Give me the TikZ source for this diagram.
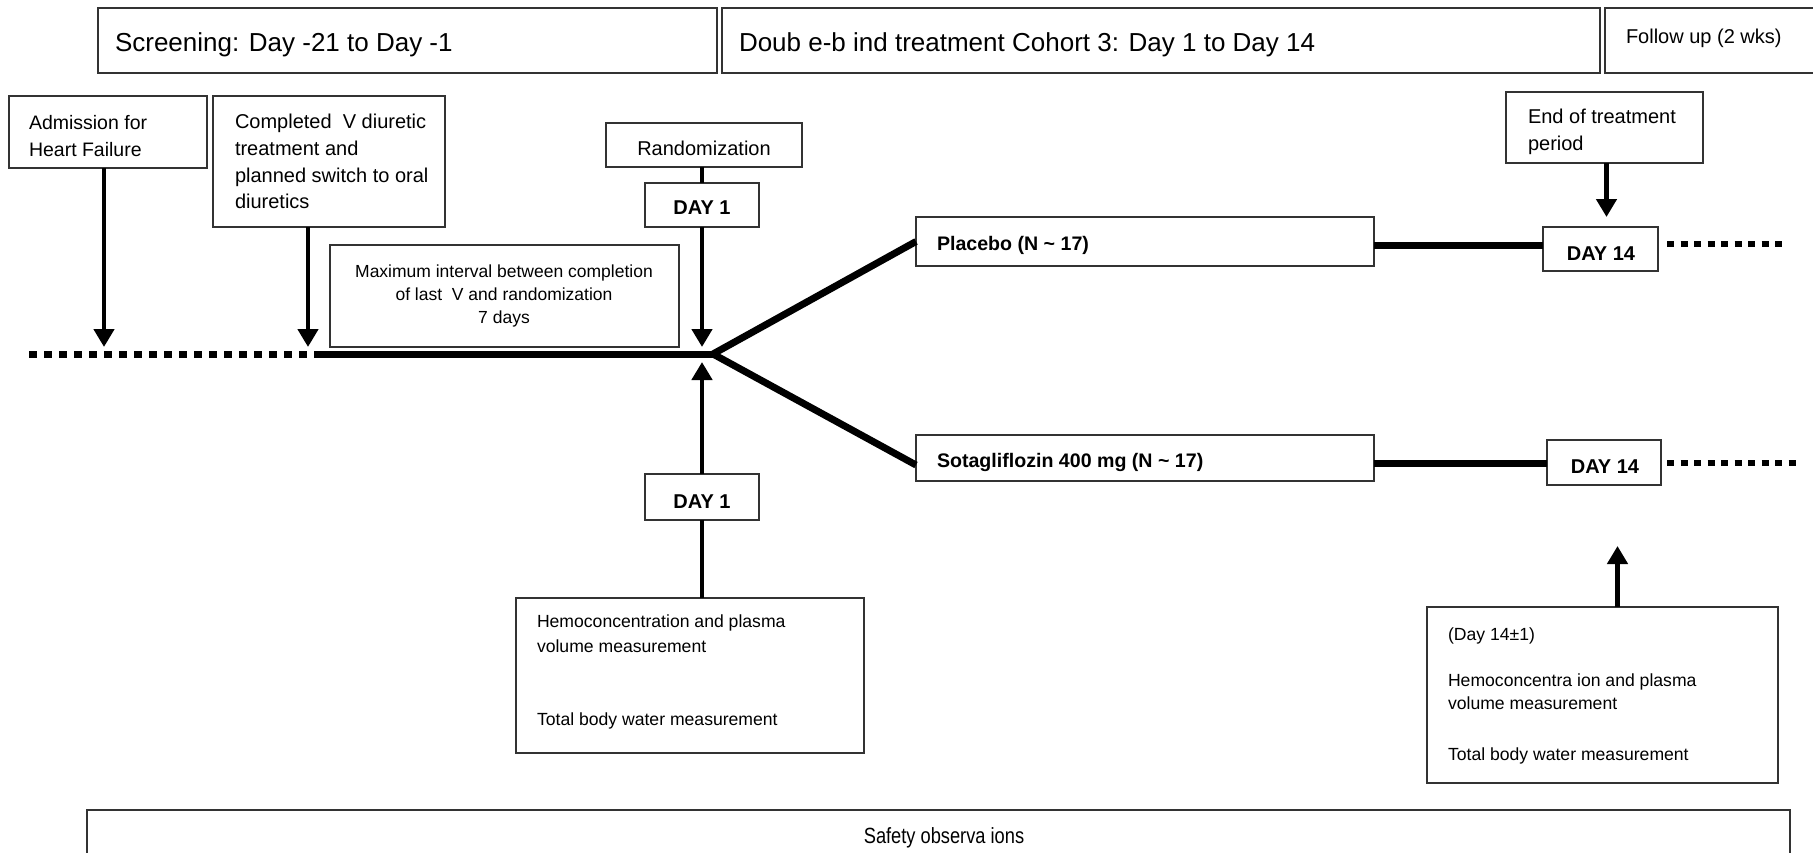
\documentclass[tikz,border=0pt]{standalone}
\usepackage{fontspec}
\setmainfont{Liberation Sans}
\newfontfamily\narrowsans{Liberation Sans}[FakeStretch=0.83]
\usetikzlibrary{arrows.meta}

% a framed box given by its corners (x1,y1) and (x2,y2), y counted downwards
\newcommand\boxnode[5]{\node[frame, minimum width={#4-#2}, minimum height={#5-#3}] (#1) at ({(#2+#4)/2},{(#3+#5)/2}) {};}

\begin{document}
\begin{tikzpicture}[x=1pt,y=-1pt,
  frame/.style={draw=black!80, line width=1.4pt, inner sep=0pt, outer sep=0pt, rectangle},
  txt/.style={inner sep=0pt, outer sep=0pt, anchor=base west, font=\fontsize{20}{24}\selectfont},
  ctxt/.style={txt, anchor=base},
  stxt/.style={txt, font=\fontsize{17.6}{21}\selectfont},
  btxt/.style={txt, font=\fontsize{19.6}{24}\selectfont\bfseries},
  daytxt/.style={ctxt, font=\fontsize{20}{24}\selectfont\bfseries},
  head/.style={txt, font=\fontsize{26}{30}\selectfont},
  track/.style={line width=7pt},
  stem/.style={line width=4.5pt},
  ptr/.style={line width=4.5pt, -{Triangle[width=20pt,length=18pt]}},
  dots/.style={line width=7pt, dash pattern=on 8pt off 7pt},
  dotsr/.style={line width=6.5pt, dash pattern=on 7pt off 6.5pt},
]
\useasboundingbox (0,0) rectangle (1813,852);
\fill[white] (0,0) rectangle (1813,852);

% phase headers
\boxnode{scr}{98}{8}{717}{73}
\boxnode{dbl}{722}{8}{1600}{73}
\boxnode{fup}{1605}{8}{1822}{73}
\node[head] (tscr) at (115,51) {Screening: Day -21 to Day -1};
\node[head] (tdbl) at (739,51) {Doub e-b ind treatment Cohort 3: Day 1 to Day 14};
\node[txt] (tfup) at (1626,43) {Follow up (2 wks)};

% event boxes
\boxnode{adm}{9}{96}{207}{168}
\node[txt, font=\fontsize{19.5}{24}\selectfont] (tadm1) at (29,129) {Admission for};
\node[txt, font=\fontsize{19.5}{24}\selectfont] (tadm2) at (29,156) {Heart Failure};

\boxnode{cmp}{213}{96}{445}{227}
\node[txt] (tcmp1) at (235,128) {Completed \ V diuretic};
\node[txt] (tcmp2) at (235,155) {treatment and};
\node[txt] (tcmp3) at (235,182) {planned switch to oral};
\node[txt] (tcmp4) at (235,208) {diuretics};

\boxnode{rnd}{606}{123}{802}{167}
\node[ctxt] (trnd) at (704,155) {Randomization};

\boxnode{dayA}{645}{183}{759}{227}
\node[daytxt] (tdayA) at (702,214) {DAY 1};

\boxnode{maxi}{330}{245}{679}{347}
\node[ctxt, font=\fontsize{17.5}{21}\selectfont] (tmax1) at (504,277) {Maximum interval between completion};
\node[ctxt, font=\fontsize{17.5}{21}\selectfont] (tmax2) at (504,300) {of last \ V and randomization};
\node[ctxt, font=\fontsize{17.5}{21}\selectfont] (tmax3) at (504,323) {7 days};

\boxnode{eot}{1506}{92}{1703}{163}
\node[txt] (teot1) at (1528,123) {End of treatment};
\node[txt] (teot2) at (1528,150) {period};

% treatment arms
\boxnode{plc}{916}{217}{1374}{266}
\node[btxt] (tplc) at (937,250) {Placebo (N \textasciitilde{} 17)};
\boxnode{sota}{916}{435}{1374}{481}
\node[btxt] (tsota) at (937,467) {Sotagliflozin 400 mg (N \textasciitilde{} 17)};

\boxnode{dA}{1543}{227}{1658}{271}
\node[daytxt] (tdA) at (1601,260) {DAY 14};
\boxnode{dB}{1547}{440}{1661}{485}
\node[daytxt] (tdB) at (1605,473) {DAY 14};

\boxnode{dayB}{645}{474}{759}{520}
\node[daytxt] (tdayB) at (702,508) {DAY 1};

% measurement boxes
\boxnode{hemo}{516}{598}{864}{753}
\node[stxt] (themo1) at (537,627) {Hemoconcentration and plasma};
\node[stxt] (themo2) at (537,652) {volume measurement};
\node[stxt] (themo3) at (537,725) {Total body water measurement};

\boxnode{meas}{1427}{607}{1778}{783}
\node[stxt] (tmeas1) at (1448,640) {(Day 14±1)};
\node[stxt] (tmeas2) at (1448,686) {Hemoconcentra ion and plasma};
\node[stxt] (tmeas3) at (1448,709) {volume measurement};
\node[stxt] (tmeas4) at (1448,760) {Total body water measurement};

\boxnode{safe}{87}{810}{1790}{880}
\node[ctxt, font=\fontsize{22}{24}\narrowsans] (tsafe) at (944,843) {Safety observa ions};

% time line and branches
\coordinate (tlA) at (29,354);
\coordinate (tlB) at (318,354);
\coordinate (fork) at (713,354);
\coordinate (endA) at (1787,244);
\coordinate (endB) at (1797,463);
\draw[dots] (tlA) -- (tlB);
\draw[track] (tlB) -- (fork);
\draw[track, line join=round] (fork) -- (plc.west);
\draw[track, line join=round] (fork) -- ([yshift=-7pt]sota.west);
\draw[track] ([yshift=-3.5pt]plc.east) -- ([yshift=-3.5pt]plc.east -| dA.west);
\draw[track] ([yshift=-5pt]sota.east) -- ([yshift=-5pt]sota.east -| dB.west);
\draw[dotsr] ([xshift=9pt]dA.east |- endA) -- (endA);
\draw[dotsr] ([xshift=6pt]dB.east |- endB) -- (endB);

% event arrows
\draw[ptr, shorten >=7pt] ([xshift=-4pt]adm.south) -- ([xshift=-4pt]adm.south |- fork);
\draw[ptr, shorten >=7pt] ([xshift=-21pt]cmp.south) -- ([xshift=-21pt]cmp.south |- fork);
\draw[stem] (dayA.north |- rnd.south) -- (dayA.north);
\draw[ptr, shorten >=7pt] (dayA.south) -- (dayA.south |- fork);
\draw[stem] (dayB.south |- hemo.north) -- (dayB.south);
\draw[ptr, shorten >=8pt] (dayB.north) -- (dayB.north |- fork);
\draw[ptr, shorten >=10pt] ([xshift=2pt]eot.south) -- ([xshift=2pt]eot.south |- dA.north);
\draw[ptr] ([xshift=15pt]meas.north) -- ++(0,-61);
\end{tikzpicture}
\end{document}
